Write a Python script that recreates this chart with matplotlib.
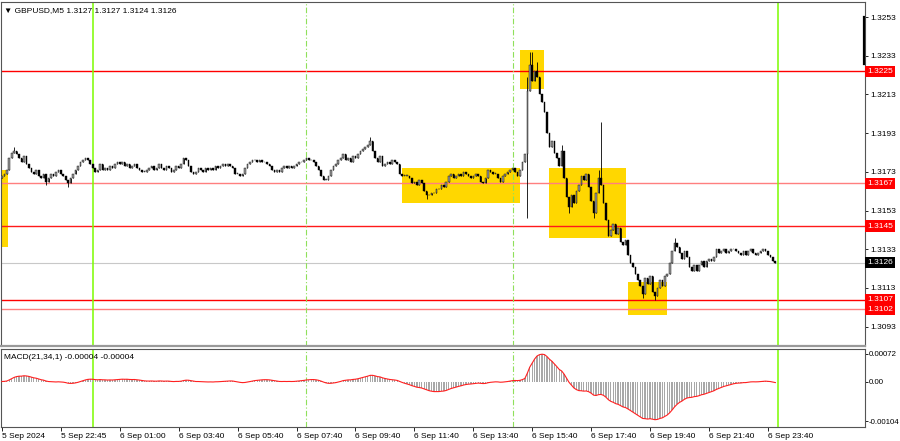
import numpy as np
import pandas as pd
import matplotlib
matplotlib.use("Agg")
import matplotlib.pyplot as plt
from matplotlib.patches import Rectangle

# GBPUSD M5 closes, one per bar
closes = [
    1.3171, 1.3172, 1.3174, 1.3180, 1.3183, 1.3184, 1.3182, 1.3180, 1.3178, 1.3181, 1.3177, 1.3175,
    1.3173, 1.3172, 1.3174, 1.3171, 1.3170, 1.3172, 1.3168, 1.3170, 1.3172, 1.3171, 1.3173, 1.3174,
    1.3172, 1.3171, 1.3169, 1.3167, 1.3170, 1.3172, 1.3174, 1.3176, 1.3178, 1.3179, 1.3180, 1.3179,
    1.3177, 1.3175, 1.3173, 1.3174, 1.3177, 1.3174, 1.3175, 1.3174, 1.3176, 1.3175, 1.3177, 1.3178,
    1.3177, 1.3178, 1.3176, 1.3177, 1.3175, 1.3176, 1.3177, 1.3175, 1.3174, 1.3173, 1.3173, 1.3174,
    1.3175, 1.3176, 1.3174, 1.3175, 1.3177, 1.3175, 1.3174, 1.3176, 1.3175, 1.3173, 1.3174, 1.3176,
    1.3175, 1.3177, 1.3180, 1.3179, 1.3176, 1.3173, 1.3172, 1.3173, 1.3175, 1.3174, 1.3173, 1.3175,
    1.3174, 1.3175, 1.3174, 1.3176, 1.3175, 1.3176, 1.3177, 1.3176, 1.3177, 1.3176, 1.3175, 1.3172,
    1.3172, 1.3171, 1.3172, 1.3175, 1.3177, 1.3178, 1.3179, 1.3179, 1.3178, 1.3179, 1.3178, 1.3178,
    1.3177, 1.3176, 1.3174, 1.3173, 1.3174, 1.3173, 1.3175, 1.3176, 1.3175, 1.3176, 1.3175, 1.3176,
    1.3177, 1.3178, 1.3178, 1.3179, 1.3180, 1.3179, 1.3179, 1.3178, 1.3176, 1.3174, 1.3171, 1.3169,
    1.3169, 1.3171, 1.3174, 1.3176, 1.3177, 1.3179, 1.3180, 1.3182, 1.3179, 1.3180, 1.3178, 1.3181,
    1.3180, 1.3182, 1.3184, 1.3185, 1.3186, 1.3187, 1.3189, 1.3184, 1.3180, 1.3178, 1.3181, 1.3176,
    1.3177, 1.3178, 1.3177, 1.3179, 1.3178, 1.3177, 1.3172, 1.3171, 1.3171, 1.3171, 1.3170, 1.3167,
    1.3168, 1.3166, 1.3169, 1.3167, 1.3163, 1.3161, 1.3161, 1.3162, 1.3162, 1.3164, 1.3164, 1.3166,
    1.3165, 1.3168, 1.3171, 1.3172, 1.3170, 1.3171, 1.3172, 1.3171, 1.3173, 1.3172, 1.3171, 1.3170,
    1.3171, 1.3172, 1.3171, 1.3168, 1.3167, 1.3170, 1.3174, 1.3173, 1.3172, 1.3172, 1.3170, 1.3168,
    1.3171, 1.3172, 1.3173, 1.3174, 1.3175, 1.3173, 1.3171, 1.3174, 1.3178, 1.3182, 1.3215, 1.3228,
    1.3220, 1.3225, 1.3222, 1.3213, 1.3209, 1.3204, 1.3193, 1.3186, 1.3189, 1.3183, 1.3180, 1.3176,
    1.3184, 1.3170, 1.3160, 1.3155, 1.3161, 1.3157, 1.3163, 1.3166, 1.3171, 1.3169, 1.3172, 1.3165,
    1.3158, 1.3152, 1.3162, 1.3170, 1.3166, 1.3157, 1.3148, 1.3140, 1.3143, 1.3146, 1.3141, 1.3144,
    1.3137, 1.3135, 1.3138, 1.3130, 1.3126, 1.3124, 1.3120, 1.3117, 1.3114, 1.3110, 1.3118, 1.3115,
    1.3119, 1.3111, 1.3109, 1.3113, 1.3117, 1.3114, 1.3119, 1.3120, 1.3126, 1.3132, 1.3136, 1.3134,
    1.3131, 1.3128, 1.3132, 1.3129, 1.3124, 1.3122, 1.3125, 1.3122, 1.3125, 1.3127, 1.3124, 1.3127,
    1.3128, 1.3127, 1.3129, 1.3133, 1.3131, 1.3132, 1.3133, 1.3131, 1.3132, 1.3133, 1.3133, 1.3132,
    1.3131, 1.3130, 1.3132, 1.3130, 1.3132, 1.3133, 1.3131, 1.3130, 1.3131, 1.3132, 1.3133, 1.3132,
    1.3130, 1.3129, 1.3127, 1.3126,
]
first_open = 1.3170

# long wicks that stick out beyond the bodies
wick_high = {5: 1.3186, 150: 1.3191, 214: 1.3222, 215: 1.3235, 216: 1.3235, 218: 1.3230,
             228: 1.3187, 243: 1.3174, 244: 1.3199, 274: 1.3139}
wick_low = {18: 1.3166, 27: 1.3165, 173: 1.3159, 214: 1.3149, 231: 1.3152, 241: 1.3149,
            261: 1.3108, 266: 1.3107}

# support / resistance levels
levels = [1.3225, 1.3167, 1.3145, 1.3107, 1.3102]
level_colors = ["#ff0000", "#ff7f7f", "#ff1a1a", "#ff0000", "#ff8080"]
last_price = 1.3126

# yellow zones: (bar from, bar to, price low, price high)
zones = [
    (-0.4, 2.4, 1.3134, 1.3174),
    (163.0, 211.0, 1.3157, 1.3175),
    (211.2, 221.0, 1.3216, 1.3236),
    (223.0, 254.0, 1.3139, 1.3175),
    (255.0, 271.0, 1.3099, 1.3116),
]

solid_vlines = [37, 316]
dashed_vlines = [124, 208.3]

xtick_pos = list(range(0, 313, 24))
xtick_labels = ["5 Sep 2024", "5 Sep 22:45", "6 Sep 01:00", "6 Sep 03:40", "6 Sep 05:40",
                "6 Sep 07:40", "6 Sep 09:40", "6 Sep 11:40", "6 Sep 13:40", "6 Sep 15:40",
                "6 Sep 17:40", "6 Sep 19:40", "6 Sep 21:40", "6 Sep 23:40"]
price_ticks = [1.3253, 1.3233, 1.3213, 1.3193, 1.3173, 1.3153, 1.3133, 1.3113, 1.3093]

plt.rcParams["font.family"] = ["Liberation Sans", "DejaVu Sans"]
FS = 6.0

c = np.array(closes)
o = np.concatenate([[first_open], c[:-1]])
idx = np.arange(len(c))
hi = np.maximum(o, c)
lo = np.minimum(o, c)
for k, v in wick_high.items():
    hi[k] = max(hi[k], v)
for k, v in wick_low.items():
    lo[k] = min(lo[k], v)

s = pd.Series(c)
macd = (s.ewm(span=21, adjust=False).mean() - s.ewm(span=34, adjust=False).mean()).values

fig = plt.figure(figsize=(9, 4.41), dpi=100)
fig.patch.set_facecolor("white")
ax = fig.add_axes([0.001, 1 - 346 / 441, 0.960, 344 / 441])
axm = fig.add_axes([0.001, 1 - 427 / 441, 0.960, 78 / 441], sharex=ax)

xmin, xmax = -0.41, 351.5
ax.set_xlim(xmin, xmax)
ax.set_ylim(1.30830, 1.32608)

for x0, x1, y0, y1 in zones:
    ax.add_patch(Rectangle((x0, y0), x1 - x0, y1 - y0, facecolor="#ffd700", edgecolor="none", zorder=1))

for p, col in zip(levels, level_colors):
    ax.axhline(p, color=col, lw=1.0, zorder=2)
ax.axhline(last_price, color="#c8c8c8", lw=0.8, zorder=1.5)

for a in (ax, axm):
    for xv in solid_vlines:
        a.axvline(xv, color="#7cfc00", lw=1.1, zorder=2)
    for xv in dashed_vlines:
        a.axvline(xv, color="#8fe05a", lw=0.8, ls=(0, (5, 2, 1, 2)), zorder=2)

# candles
up = c >= o
bottom = np.minimum(o, c)
body = np.maximum(np.abs(c - o), 0.00002)
ax.vlines(idx, lo, hi, color="black", lw=0.6, zorder=3)
ax.bar(idx[up], body[up], bottom=bottom[up], width=0.65,
       color="#9a9a9a", edgecolor="black", lw=0.3, zorder=4)
ax.bar(idx[~up], body[~up], bottom=bottom[~up], width=0.65,
       color="black", edgecolor="black", lw=0.3, zorder=4)

# black marker on the right border
ax.plot([xmax - 0.3, xmax - 0.3], [1.3229, 1.3253], color="black", lw=1.6, zorder=5, clip_on=False)

ax.yaxis.tick_right()
ax.set_yticks(price_ticks)
ax.set_yticklabels([f"{p:.4f}" for p in price_ticks])
ax.tick_params(axis="y", labelsize=FS, length=2.5, width=0.6, pad=1.5, colors="black")
ax.tick_params(axis="x", length=0, labelbottom=False)

# price tags on the axis
for p in levels:
    ax.text(1.003, p, f"{p:.4f}", transform=ax.get_yaxis_transform(), fontsize=FS, color="white",
            va="center", ha="left", bbox=dict(boxstyle="square,pad=0.25", fc="#ff0000", ec="none"))
ax.text(1.003, last_price, f"{last_price:.4f}", transform=ax.get_yaxis_transform(), fontsize=FS,
        color="white", va="center", ha="left", bbox=dict(boxstyle="square,pad=0.25", fc="black", ec="none"))

ax.text(0.004, 0.985, "▼ GBPUSD,M5 1.3127 1.3127 1.3124 1.3126", transform=ax.transAxes,
        fontsize=FS, va="top", ha="left", color="black")

# MACD panel
axm.bar(idx, macd, width=0.55, color="#a8a8a8", zorder=2)
axm.plot(idx, macd, color="#ff2020", lw=0.8, zorder=3)
axm.set_ylim(-0.00119, 0.00085)
axm.yaxis.tick_right()
axm.set_yticks([0.00072, 0.0, -0.00104])
axm.set_yticklabels(["0.00072", "0.00", "-0.00104"])
axm.tick_params(axis="y", labelsize=5.7, length=2, width=0.6, pad=1)
axm.set_xticks(xtick_pos)
axm.set_xticklabels(xtick_labels)
axm.tick_params(axis="x", labelsize=FS, length=3, width=0.6, pad=1)
for t in axm.get_xticklabels():
    t.set_ha("left")
axm.text(0.004, 0.93, "MACD(21,34,1) -0.00004 -0.00004", transform=axm.transAxes,
         fontsize=FS, va="top", ha="left")

for a in (ax, axm):
    for sp in a.spines.values():
        sp.set_color("#555555")
        sp.set_linewidth(0.8)
ax.spines["bottom"].set_color("#999999")
ax.spines["bottom"].set_linewidth(1.6)

fig.savefig("out.png", dpi=100, facecolor="white")
